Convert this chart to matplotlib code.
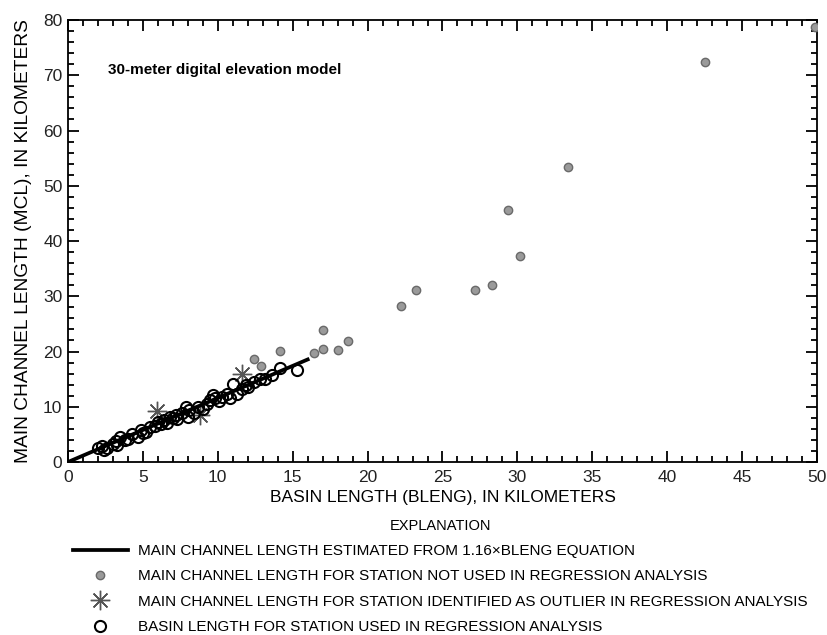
import matplotlib
matplotlib.use("Agg")
import matplotlib.pyplot as plt
from matplotlib.ticker import MultipleLocator

plt.rcParams['font.family'] = ['Liberation Sans', 'DejaVu Sans']

# stations not used in regression analysis (gray dots)
bleng_not_used = [12.4, 12.9, 14.15, 16.4, 17.0, 17.0, 18.05, 18.7, 22.25, 23.2,
                  27.2, 28.3, 29.35, 30.2, 33.4, 42.5, 49.85]
mcl_not_used = [18.6, 17.4, 20.1, 19.8, 20.45, 23.9, 20.3, 21.9, 28.2, 31.2,
                31.1, 32.0, 45.7, 37.3, 53.4, 72.4, 78.7]

# outliers
bleng_outlier = [5.95, 8.8, 11.65]
mcl_outlier = [9.2, 8.5, 16.0]

# stations used in regression analysis
bleng_used = [2.0, 2.3, 2.4, 2.6, 3.0, 3.2, 3.3, 3.5, 3.8, 4.0, 4.3, 4.7, 4.9,
              5.0, 5.2, 5.5, 5.8, 6.0, 6.2, 6.4, 6.6, 6.8, 7.0, 7.2, 7.3, 7.6,
              7.9, 8.0, 8.1, 8.4, 8.7, 9.0, 9.3, 9.5, 9.7, 9.8, 10.1, 10.3,
              10.6, 10.8, 11.0, 11.3, 11.6, 11.9, 12.0, 12.4, 12.8, 13.15, 13.6,
              14.15, 15.27]
mcl_used = [2.5, 2.9, 2.2, 2.6, 3.2, 3.8, 3.0, 4.5, 3.9, 4.2, 5.0, 4.6, 5.8,
            5.2, 5.4, 6.3, 6.6, 7.2, 6.8, 7.6, 7.0, 8.2, 8.0, 8.6, 7.7, 8.8,
            10.0, 8.2, 9.4, 8.9, 10.0, 9.6, 10.5, 11.3, 12.1, 11.6, 11.0, 11.8,
            12.4, 11.5, 14.2, 12.4, 13.3, 13.9, 13.6, 14.4, 15.0, 15.1, 15.7,
            16.95, 16.65]

coef = 1.16
line_x = [0, 16]
line_y = [coef * v for v in line_x]

fig = plt.figure(figsize=(8.27, 6.35), dpi=100)
ax = fig.add_axes([0.0822, 0.2724, 0.9057, 0.6961])

h_line, = ax.plot(line_x, line_y, color='black', lw=2.7, zorder=4,
                  label='MAIN CHANNEL LENGTH ESTIMATED FROM 1.16×BLENG EQUATION')
h_gray, = ax.plot(bleng_not_used, mcl_not_used, 'o', ms=6, mfc='#9a9a9a', mec='#6a6a6a',
                  mew=1.0, zorder=3,
                  label='MAIN CHANNEL LENGTH FOR STATION NOT USED IN REGRESSION ANALYSIS')
h_star, = ax.plot(bleng_outlier, mcl_outlier, ls='none', marker=(8, 2, 0), ms=14,
                  mec='#555555', mew=1.0, zorder=3,
                  label='MAIN CHANNEL LENGTH FOR STATION IDENTIFIED AS OUTLIER IN REGRESSION ANALYSIS')
h_open, = ax.plot(bleng_used, mcl_used, 'o', ms=8, mfc='none', mec='black', mew=1.5, zorder=5,
                  label='BASIN LENGTH FOR STATION USED IN REGRESSION ANALYSIS')

ax.set_xlim(0, 50)
ax.set_ylim(0, 80)
ax.xaxis.set_major_locator(MultipleLocator(5))
ax.xaxis.set_minor_locator(MultipleLocator(1))
ax.yaxis.set_major_locator(MultipleLocator(10))
ax.yaxis.set_minor_locator(MultipleLocator(2))
ax.tick_params(which='both', direction='in', top=True, right=True, width=1.3,
               labelsize=12.5, labelcolor='#222222')
ax.tick_params(which='major', length=8)
ax.tick_params(axis='x', which='major', pad=6)
ax.tick_params(axis='y', which='major', pad=4)
ax.tick_params(which='minor', length=4.5)
for s in ax.spines.values():
    s.set_linewidth(1.3)

ax.set_xlabel('BASIN LENGTH (BLENG), IN KILOMETERS', fontsize=12.5, labelpad=3)
ax.set_ylabel('MAIN CHANNEL LENGTH (MCL), IN KILOMETERS', fontsize=13.8, labelpad=8)

ax.text(0.053, 0.887, '30-meter digital elevation model', transform=ax.transAxes,
        fontsize=11, fontweight='bold', va='center')

leg = fig.legend(handles=[h_line, h_gray, h_star, h_open], loc='upper left',
                 bbox_to_anchor=(0.088, 0.183), frameon=False, fontsize=11,
                 title='EXPLANATION', title_fontsize=10.5, handlelength=3.6,
                 handletextpad=0.7, labelspacing=0.74, borderpad=0, borderaxespad=0)
leg._legend_box.align = 'center'

fig.savefig('out.png', dpi=100)
